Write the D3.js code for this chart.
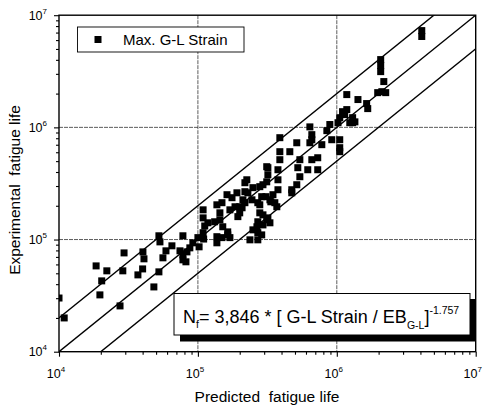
<!DOCTYPE html>
<html>
<head>
<meta charset="utf-8">
<script src="https://cdn.jsdelivr.net/npm/d3@7"></script>
<style>
  html, body { margin: 0; padding: 0; background: #fff; }
  svg { display: block; font-family: "Liberation Sans", Arial, sans-serif; }
</style>
</head>
<body>
<svg id="chart" width="485" height="407"></svg>
<script>
// ---- data ----
const predicted = [1.0e4,1.09e4,1.85e4,2.03e4,1.97e4,2.21e4,2.94e4,2.88e4,2.75e4,4.02e4,
  4.09e4,3.70e4,4.0e4,4.82e4,5.24e4,5.24e4,5.33e4,5.6e4,5.89e4,6.5e4,
  7.8e4,7.43e4,7.8e4,8.34e4,8.75e4,8.2e4,7.8e4,9.2e4,1.02e5,1.10e5,
  1.0e5,1.09e5,1.09e5,1.09e5,1.12e5,1.18e5,1.32e5,1.44e5,1.37e5,1.49e5,
  1.64e5,1.70e5,1.37e5,1.37e5,1.49e5,1.44e5,1.51e5,1.64e5,1.62e5,1.76e5,
  1.91e5,1.70e5,1.85e5,1.94e5,2.08e5,2.0e5,2.18e5,2.29e5,2.45e5,2.49e5,
  2.79e5,3.13e5,2.70e5,2.94e5,2.70e5,2.49e5,2.37e5,2.70e5,2.94e5,3.30e5,
  3.47e5,3.70e5,2.79e5,3.13e5,2.70e5,3.77e5,2.18e5,2.0e5,2.79e5,2.66e5,
  3.19e5,3.30e5,2.88e5,3.58e5,2.25e5,2.18e5,2.11e5,2.88e5,3.19e5,3.19e5,
  3.13e5,3.77e5,3.77e5,2.94e5,3.89e5,3.89e5,3.89e5,4.59e5,5.15e5,5.42e5,
  6.61e5,7.29e5,5.24e5,6.18e5,7.29e5,5.42e5,5.15e5,4.74e5,4.74e5,6.40e5,
  6.61e5,6.61e5,6.40e5,7.80e5,8.91e5,8.48e5,9.2e5,1.05e6,1.05e6,1.05e6,
  1.02e6,1.05e6,1.14e6,1.18e6,1.10e6,1.24e6,1.30e6,1.30e6,1.35e6,1.18e6,
  1.42e6,1.64e6,1.67e6,2.07e6,2.07e6,2.07e6,2.18e6,2.11e6,1.97e6,2.25e6,
  4.09e6,4.09e6,3.35e5,3.09e5];
const experimental = [3.01e4,2.0e4,5.82e4,4.28e4,3.21e4,5.26e4,7.6e4,5.26e4,2.56e4,7.76e4,
  6.73e4,4.84e4,5.47e4,3.78e4,5.15e4,1.08e5,9.53e4,6.87e4,7.93e4,8.79e4,
  1.08e5,7.93e4,7.29e4,7.76e4,8.43e4,6.33e4,6.59e4,9.35e4,8.61e4,1.01e5,
  1.04e5,1.15e5,1.84e5,1.56e5,1.32e5,1.41e5,1.44e5,1.50e5,1.06e5,1.04e5,
  1.17e5,1.04e5,9.35e4,2.04e5,2.13e5,1.73e5,1.30e5,1.10e5,2.51e5,2.36e5,
  2.61e5,1.84e5,1.96e5,1.60e5,1.92e5,1.73e5,3.21e5,2.61e5,2.26e5,2.90e5,
  2.96e5,4.46e5,2.13e5,1.66e5,1.44e5,1.22e5,9.94e4,9.94e4,1.35e5,2.26e5,
  2.51e5,1.96e5,1.73e5,1.50e5,1.15e5,2.78e5,2.13e5,1.96e5,2.04e5,1.30e5,
  1.56e5,1.41e5,1.10e5,2.13e5,3.41e5,2.67e5,2.26e5,2.41e5,4.37e5,3.78e5,
  3.27e5,4.19e5,3.41e5,3.08e5,8.09e5,6.07e5,5.15e5,6.07e5,7.29e5,5.15e5,
  5.15e5,5.36e5,4.37e5,4.19e5,4.19e5,3.63e5,3.08e5,2.78e5,2.61e5,1.01e6,
  8.61e5,7.76e5,7.29e5,7.01e5,1.06e6,9.35e5,7.76e5,7.76e5,6.59e5,6.07e5,
  1.10e6,1.22e6,1.30e6,1.44e6,1.38e6,1.10e6,1.22e6,1.10e6,1.12e6,1.96e6,
  1.77e6,1.63e6,1.47e6,4.02e6,3.56e6,3.14e6,2.56e6,2.08e6,2.04e6,2.04e6,
  7.29e6,6.46e6,2.17e5,2.41e5];
const majorTicks = [1e4, 1e5, 1e6, 1e7];
const tickExponents = ["4", "5", "6", "7"];
const minorMultipliers = [2, 3, 4, 5, 6, 7, 8, 9];
const bandFactors = [0.5, 1, 2];           // y = x/2, y = x, y = 2x
const seriesName = "Max. G-L Strain";
const xTitle = "Predicted  fatigue life";
const yTitle = "Experimental  fatigue life";

// ---- layout ----
const svg = d3.select("#chart");
const L = 59, R = 475.7, T = 15.2, B = 351.7;
const x = d3.scaleLog().domain([1e4, 1e7]).range([L, R]);
const y = d3.scaleLog().domain([1e4, 1e7]).range([B, T]);

const minorTicks = [];
for (let d = 0; d < 3; d++) minorMultipliers.forEach(m => minorTicks.push(majorTicks[d] * m));

svg.append("defs").append("clipPath").attr("id", "plotclip")
  .append("rect").attr("x", L).attr("y", T).attr("width", R - L).attr("height", B - T);

// grid lines
const grid = svg.append("g");
[1e5, 1e6].forEach(v => {
  grid.append("line").attr("x1", x(v)).attr("x2", x(v)).attr("y1", T).attr("y2", B)
    .attr("stroke", "#333").attr("stroke-width", 0.8).attr("stroke-dasharray", "4,1");
  grid.append("line").attr("y1", y(v)).attr("y2", y(v)).attr("x1", L).attr("x2", R)
    .attr("stroke", "#333").attr("stroke-width", 0.8).attr("stroke-dasharray", "4,1");
});

// band lines
const lineGen = d3.line().x(d => x(d[0])).y(d => y(d[1]));
const gLines = svg.append("g").attr("clip-path", "url(#plotclip)");
bandFactors.forEach(f => {
  gLines.append("path")
    .attr("d", lineGen([[1e3, 1e3 * f], [1e8, 1e8 * f]]))
    .attr("fill", "none").attr("stroke", "#000").attr("stroke-width", 1.4);
});

// points
const pts = predicted.map((p, i) => [p, experimental[i]]);
const ms = 7;
svg.append("g").attr("clip-path", "url(#plotclip)")
  .selectAll("rect").data(pts).join("rect")
  .attr("x", d => x(d[0]) - ms / 2).attr("y", d => y(d[1]) - ms / 2)
  .attr("width", ms).attr("height", ms).attr("fill", "#000");

// axes
const axB = svg.append("g").attr("transform", `translate(0,${B})`);
axB.call(d3.axisBottom(x).tickValues(minorTicks).tickSize(3).tickFormat(""));
axB.append("g").call(d3.axisBottom(x).tickValues(majorTicks).tickSize(5).tickFormat(""));
const axL = svg.append("g").attr("transform", `translate(${L},0)`);
axL.call(d3.axisLeft(y).tickValues(minorTicks).tickSize(3).tickFormat(""));
axL.append("g").call(d3.axisLeft(y).tickValues(majorTicks).tickSize(5).tickFormat(""));
svg.selectAll(".domain").remove();
svg.selectAll(".tick line").attr("stroke", "#000").attr("stroke-width", 1.1);

// frame
svg.append("rect").attr("x", L).attr("y", T).attr("width", R - L).attr("height", B - T)
  .attr("fill", "none").attr("stroke", "#000").attr("stroke-width", 1.4);

// tick labels
majorTicks.forEach((v, i) => {
  const tx = svg.append("text").attr("x", x(v) - 3).attr("y", B + 26)
    .attr("text-anchor", "middle").attr("font-size", 12.5).attr("fill", "#000");
  tx.append("tspan").text("10");
  tx.append("tspan").attr("font-size", 8).attr("dy", -6).text(tickExponents[i]);
  const ty = svg.append("text").attr("x", L - 12).attr("y", y(v) + 4.5)
    .attr("text-anchor", "end").attr("font-size", 12.5).attr("fill", "#000");
  ty.append("tspan").text("10");
  ty.append("tspan").attr("font-size", 8).attr("dy", -6).text(tickExponents[i]);
});

// axis titles
svg.append("text").attr("x", 267).attr("y", 402).attr("text-anchor", "middle")
  .attr("font-size", 15.5).attr("xml:space", "preserve").text(xTitle);
svg.append("text").attr("transform", "translate(20,190) rotate(-90)")
  .attr("text-anchor", "middle").attr("font-size", 15.5).attr("xml:space", "preserve").text(yTitle);

// legend
const lg = svg.append("g");
lg.append("rect").attr("x", 77.5).attr("y", 27).attr("width", 166.5).attr("height", 25)
  .attr("fill", "#fff").attr("stroke", "#000").attr("stroke-width", 0.9);
lg.append("rect").attr("x", 98 - 3.5).attr("y", 39.5 - 3.5).attr("width", 7).attr("height", 7).attr("fill", "#000");
lg.append("text").attr("x", 123).attr("y", 45).attr("font-size", 15).text(seriesName);

// equation box
const eq = svg.append("g");
eq.append("rect").attr("x", 180).attr("y", 299).attr("width", 296).attr("height", 42.5).attr("fill", "#000");
eq.append("rect").attr("x", 174).attr("y", 293.5).attr("width", 296).attr("height", 41.5)
  .attr("fill", "#fff").attr("stroke", "#000").attr("stroke-width", 1);
const et = eq.append("text").attr("x", 183).attr("y", 323).attr("font-size", 18).attr("xml:space", "preserve");
et.append("tspan").text("N");
et.append("tspan").attr("font-size", 10.5).attr("dy", 5).text("f");
et.append("tspan").attr("dy", -5).text("= 3,846 * [ G-L Strain / EB");
et.append("tspan").attr("font-size", 10.5).attr("dy", 6).text("G-L");
et.append("tspan").attr("dy", -6).text("]");
et.append("tspan").attr("font-size", 10.5).attr("dy", -9).text("-1.757");
</script>
</body>
</html>
